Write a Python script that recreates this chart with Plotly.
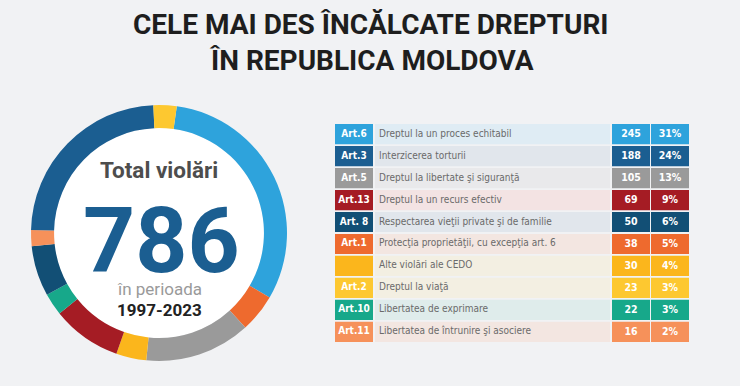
import plotly.graph_objects as go

# ---------------- data ----------------
articles = ["Art.6", "Art.3", "Art.5", "Art.13", "Art. 8", "Art.1", "", "Art.2", "Art.10", "Art.11"]
rights = [
    "Dreptul la un proces echitabil",
    "Interzicerea torturii",
    "Dreptul la libertate şi siguranţă",
    "Dreptul la un recurs efectiv",
    "Respectarea vieţii private şi de familie",
    "Protecţia proprietăţii, cu excepţia art. 6",
    "Alte violări ale CEDO",
    "Dreptul la viaţă",
    "Libertatea de exprimare",
    "Libertatea de întrunire şi asociere",
]
counts = [245, 188, 105, 69, 50, 38, 30, 23, 22, 16]
percents = ["31%", "24%", "13%", "9%", "6%", "5%", "4%", "3%", "3%", "2%"]
donut_order = [0, 5, 2, 6, 3, 8, 4, 9, 1, 7]  # clockwise from top
total = 786

# ---------------- style ----------------
colors = ["#2ea3dc", "#1b5e91", "#9a9a9a", "#a51c24", "#124f75",
          "#ee6a2e", "#fbb61c", "#fdc830", "#17a88a", "#f6915a"]
tints = ["#dfecf4", "#e1e6ec", "#e9e9eb", "#f3e3e3", "#e1e6ec",
         "#f3e6e1", "#f3efe2", "#f3efe2", "#dfeceb", "#f3e6e1"]
BG = "#f1f2f4"
W, H = 740, 386
NARROW = "DejaVu Sans Condensed, DejaVu Sans, sans-serif"

fig = go.Figure()

# ---------------- donut ----------------
cx, cy, R = 159, 233, 128
fig.add_trace(go.Pie(
    values=[counts[i] for i in donut_order],
    labels=[rights[i] for i in donut_order],
    marker=dict(colors=[colors[i] for i in donut_order], line=dict(width=0)),
    hole=0.82, sort=False, direction="clockwise", rotation=8,
    textinfo="none", hoverinfo="label+value", showlegend=False,
    domain=dict(x=[(cx - R) / W, (cx + R) / W], y=[(H - cy - R) / H, (H - cy + R) / H]),
))
ri = R * 0.82
fig.add_shape(type="circle", xref="paper", yref="paper",
              x0=(cx - ri) / W, x1=(cx + ri) / W,
              y0=(H - cy - ri) / H, y1=(H - cy + ri) / H,
              fillcolor="white", line=dict(width=0), layer="below")

# ---------------- table ----------------
rows = list(range(len(articles)))
cols = [(0, 38), (40, 275), (277, 315), (316, 354)]
fills = [colors, tints, colors, colors]
for (x0, x1), fc in zip(cols, fills):
    fig.add_trace(go.Bar(
        y=rows, x=[x1 - x0] * len(rows), base=[x0] * len(rows),
        orientation="h", marker=dict(color=fc, line=dict(width=0)),
        hoverinfo="skip", showlegend=False, xaxis="x", yaxis="y",
    ))

fig.add_trace(go.Scatter(
    x=[19] * len(rows), y=rows, mode="text", text=[f"<b>{a}</b>" for a in articles],
    textposition="middle center", textfont=dict(family=NARROW, size=10, color="white"),
    hoverinfo="skip", showlegend=False))
fig.add_trace(go.Scatter(
    x=[44] * len(rows), y=rows, mode="text", text=rights,
    textposition="middle right", textfont=dict(family=NARROW, size=10, color="#6a6a6a"),
    hoverinfo="skip", showlegend=False))
fig.add_trace(go.Scatter(
    x=[296] * len(rows), y=rows, mode="text", text=[f"<b>{c}</b>" for c in counts],
    textposition="middle center", textfont=dict(family=NARROW, size=10.5, color="white"),
    hoverinfo="skip", showlegend=False))
fig.add_trace(go.Scatter(
    x=[335] * len(rows), y=rows, mode="text", text=[f"<b>{p}</b>" for p in percents],
    textposition="middle center", textfont=dict(family=NARROW, size=10.5, color="white"),
    hoverinfo="skip", showlegend=False))

top, bot = 124, 342
fig.update_layout(
    width=W, height=H, margin=dict(l=0, r=0, t=0, b=0),
    paper_bgcolor=BG, plot_bgcolor="rgba(0,0,0,0)",
    barmode="overlay", bargap=0.08,
    xaxis=dict(domain=[335 / W, 689 / W], range=[0, 354], visible=False, fixedrange=True),
    yaxis=dict(domain=[(H - bot - 0.9) / H, (H - top + 0.9) / H], range=[9.5, -0.5],
               visible=False, fixedrange=True),
)

# ---------------- texts ----------------
ann = [
    dict(x=371 / W, y=1 - 24 / H, text="<b>CELE MAI DES ÎNCĂLCATE DREPTURI</b>",
         font=dict(family="Roboto", size=28, color="#1e1e1e")),
    dict(x=371 / W, y=1 - 60 / H, text="<b>ÎN REPUBLICA MOLDOVA</b>",
         font=dict(family="Roboto", size=28, color="#1e1e1e")),
    dict(x=cx / W, y=1 - 170 / H, text="<b>Total violări</b>",
         font=dict(family="Roboto", size=22.5, color="#4d4d4d")),
    dict(x=161 / W, y=1 - 241 / H, text=f"<b>{total}</b>",
         font=dict(family="Roboto", size=91, color="#1b5e91")),
    dict(x=cx / W, y=1 - 289 / H, text="în perioada",
         font=dict(family="Roboto", size=17, color="#9a9a9a")),
    dict(x=cx / W, y=1 - 310 / H, text="<b>1997-2023</b>",
         font=dict(family="Roboto", size=17, color="#222222")),
]
for a in ann:
    fig.add_annotation(xref="paper", yref="paper", showarrow=False,
                       xanchor="center", yanchor="middle", **a)

fig.write_html("out.html", config={"displayModeBar": False},
               post_script="document.body.style.margin='0';document.body.style.background='%s';" % BG)
